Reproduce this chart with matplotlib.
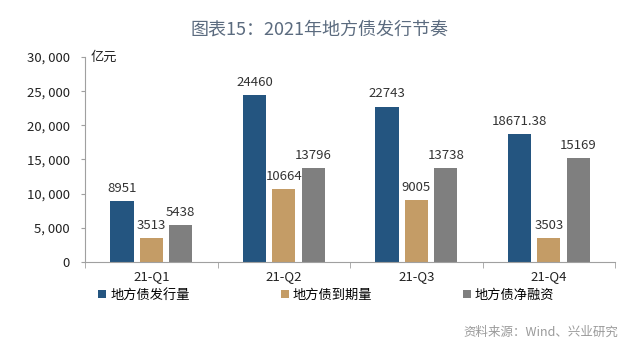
import matplotlib
matplotlib.use("Agg")
import matplotlib.pyplot as plt
import numpy as np
from matplotlib.ticker import FuncFormatter, FixedLocator

plt.rcParams['font.family'] = ['Noto Sans CJK SC', 'DejaVu Sans']

categories = ['21-Q1', '21-Q2', '21-Q3', '21-Q4']
issuance = [8951, 24460, 22743, 18671.38]
maturity = [3513, 10664, 9005, 3503]
net_financing = [5438, 13796, 13738, 15169]
issuance_labels = ['8951', '24460', '22743', '18671.38']
maturity_labels = ['3513', '10664', '9005', '3503']
net_labels = ['5438', '13796', '13738', '15169']
series_names = ['地方债发行量', '地方债到期量', '地方债净融资']
colors = ['#245580', '#C49C66', '#7F7F7F']

fig = plt.figure(figsize=(6.4, 3.52), dpi=100)
ax = fig.add_axes([0.133, 0.256, 0.828, 0.582])

x = np.arange(len(categories))
w = 0.175
step = 0.222
series = [issuance, maturity, net_financing]
labels = [issuance_labels, maturity_labels, net_labels]
for i, (vals, lab, c, name) in enumerate(zip(series, labels, colors, series_names)):
    pos = x + (i - 1) * step
    ax.bar(pos, vals, width=w, color=c, label=name, zorder=2)
    for p, v, t in zip(pos, vals, lab):
        ax.text(p, v + 900, t, ha='center', va='bottom', fontsize=9.5, color='#333333')

ax.set_xlim(-0.5, len(categories) - 0.5)
ax.set_ylim(0, 30000)
ax.set_yticks(np.arange(0, 30001, 5000))
ax.yaxis.set_major_formatter(FuncFormatter(lambda v, p: f'{int(v):,}'.replace(',', ', ')))
ax.set_xticks(x)
ax.set_xticklabels(categories)
ax.xaxis.set_minor_locator(FixedLocator(np.arange(-0.5, len(categories), 1.0)))
ax.tick_params(axis='x', which='major', length=0, pad=6, labelsize=9.5, colors='#222222')
ax.tick_params(axis='x', which='minor', length=4, color='#A0A0A0')
ax.tick_params(axis='y', length=3, color='#A0A0A0', labelsize=9.5, labelcolor='#222222', pad=8)

for s in ['top', 'right']:
    ax.spines[s].set_visible(False)
for s in ['left', 'bottom']:
    ax.spines[s].set_color('#A0A0A0')
    ax.spines[s].set_linewidth(0.8)

ax.text(0.01, 1.0, '亿元', transform=ax.transAxes, ha='left', va='center', fontsize=9.5, color='#222222')

fig.text(0.5, 0.915, '图表15：2021年地方债发行节奏', ha='center', va='center', fontsize=13, color='#5B6B7F')

leg = fig.legend(loc='center left', bbox_to_anchor=(0.135, 0.162), ncol=3, frameon=False,
                 fontsize=9.5, handlelength=0.6, handleheight=0.6, handletextpad=0.3,
                 columnspacing=6.9)

fig.text(0.966, 0.057, '资料来源：Wind、兴业研究', ha='right', va='center', fontsize=9, color='#9A9A9A')

fig.savefig('out.png', dpi=100)
